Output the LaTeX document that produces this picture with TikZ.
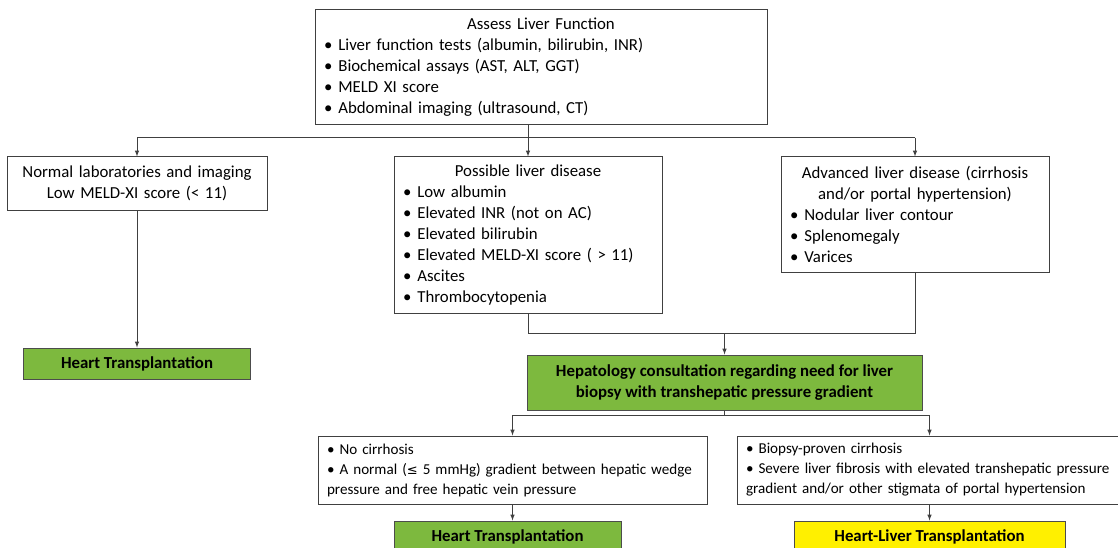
\documentclass[tikz,border=0pt]{standalone}
\usepackage{fontspec}
\setmainfont{Carlito}
\newfontfamily\symfont{DejaVu Sans}
\usetikzlibrary{
    arrows,
    calc,
    positioning
}
\definecolor{hgreen}{RGB}{125,185,62}
\definecolor{hyellow}{RGB}{255,240,0}
\tikzset{
    box/.style={draw=black!75, line width=1pt, fill=white, inner xsep=9pt, inner ysep=0pt, align=left, font=\fontsize{16.8}{21}\selectfont},
    smallbox/.style={box, font=\fontsize{15.1}{20}\selectfont},
    result/.style={draw=black!70, line width=1pt, inner sep=0pt, align=center, font=\bfseries\fontsize{16.8}{21}\selectfont},
    arr/.style={->, >=latex, line width=1pt, draw=black!75},
    link/.style={line width=1pt, draw=black!75}
}

\begin{document}
\begin{tikzpicture}[x=1pt, y=-1pt]
    \useasboundingbox (0, 0) rectangle (1118, 548);
    \clip (0, 0) rectangle (1118, 548);
    \node[box, text width=434pt, minimum height=115pt] (assess) at (541, 67.5)
    {{\centering Assess Liver Function\par}
    •\hspace{6pt}Liver function tests (albumin, bilirubin, INR)\\
    •\hspace{6pt}Biochemical assays (AST, ALT, GGT)\\
    •\hspace{6pt}MELD XI score\\
    •\hspace{6pt}Abdominal imaging (ultrasound, CT)};
    \node[box, align=center, text width=242pt, minimum height=53pt] (normal) at (137, 183.5)
    {Normal laboratories and imaging\\Low MELD-XI score (< 11)};
    \node[box, text width=250pt, minimum height=156pt] (possible) at (528, 235)
    {{\centering Possible liver disease\par}
    •\hspace{6pt}Low albumin\\
    •\hspace{6pt}Elevated INR (not on AC)\\
    •\hspace{6pt}Elevated bilirubin\\
    •\hspace{6pt}Elevated MELD-XI score ( > 11)\\
    •\hspace{6pt}Ascites\\
    •\hspace{6pt}Thrombocytopenia};
    \node[box, text width=250pt, minimum height=115pt] (advanced) at (915, 214.5)
    {{\centering Advanced liver disease (cirrhosis\\and/or portal hypertension)\par}
    •\hspace{6pt}Nodular liver contour\\
    •\hspace{6pt}Splenomegaly\\
    •\hspace{6pt}Varices};
    \node[result, fill=hgreen, minimum width=227pt, minimum height=31pt] (heartA) at (137, 363.5)
    {Heart Transplantation};
    \node[result, fill=hgreen, minimum width=395pt, minimum height=55pt] (hepat) at (724.5, 382.5)
    {Hepatology consultation regarding need for liver\\biopsy with transhepatic pressure gradient};
    \node[smallbox, text width=371pt, minimum height=68pt] (nocirr) at (512.5, 470)
    {• No cirrhosis\\
    • A normal ({\symfont\fontsize{13}{20}\selectfont ≤} 5 mmHg) gradient between hepatic wedge\\
    pressure and free hepatic vein pressure};
    \node[smallbox, text width=384pt, minimum height=68pt] (cirr) at (938, 470)
    {• Biopsy-proven cirrhosis\\
    • Severe liver fibrosis with elevated transhepatic pressure\\
    gradient and/or other stigmata of portal hypertension};
    \node[result, fill=hgreen, minimum width=227pt, minimum height=31pt] (heartB) at (507.5, 536.5)
    {Heart Transplantation};
    \node[result, fill=hyellow, minimum width=271pt, minimum height=31pt] (liver) at (929.5, 536.5)
    {Heart-Liver Transplantation};

    \coordinate (busA) at (0, 138);
    \coordinate (busB) at (0, 333);
    \coordinate (busC) at (0, 415);
    \draw[arr] (assess.south -| possible.north) -- (possible.north);
    \draw[arr] (busA -| advanced.north) -| (normal.north);
    \draw[arr] (busA -| advanced.north) -- (advanced.north);
    \draw[link] (possible.south) |- (busB -| advanced.south) -- (advanced.south);
    \draw[arr] (busB -| hepat.north) -- (hepat.north);
    \draw[link] (hepat.south) -- (busC -| hepat.south);
    \draw[arr] (busC -| liver.north) -| (nocirr.north);
    \draw[arr] (busC -| liver.north) -- (cirr.north -| liver.north);
    \draw[arr] (normal.south) -- (heartA.north);
    \draw[arr] (nocirr.south) -- (nocirr.south |- heartB.north);
    \draw[arr] (cirr.south -| liver.north) -- (liver.north);
\end{tikzpicture}
\end{document}
